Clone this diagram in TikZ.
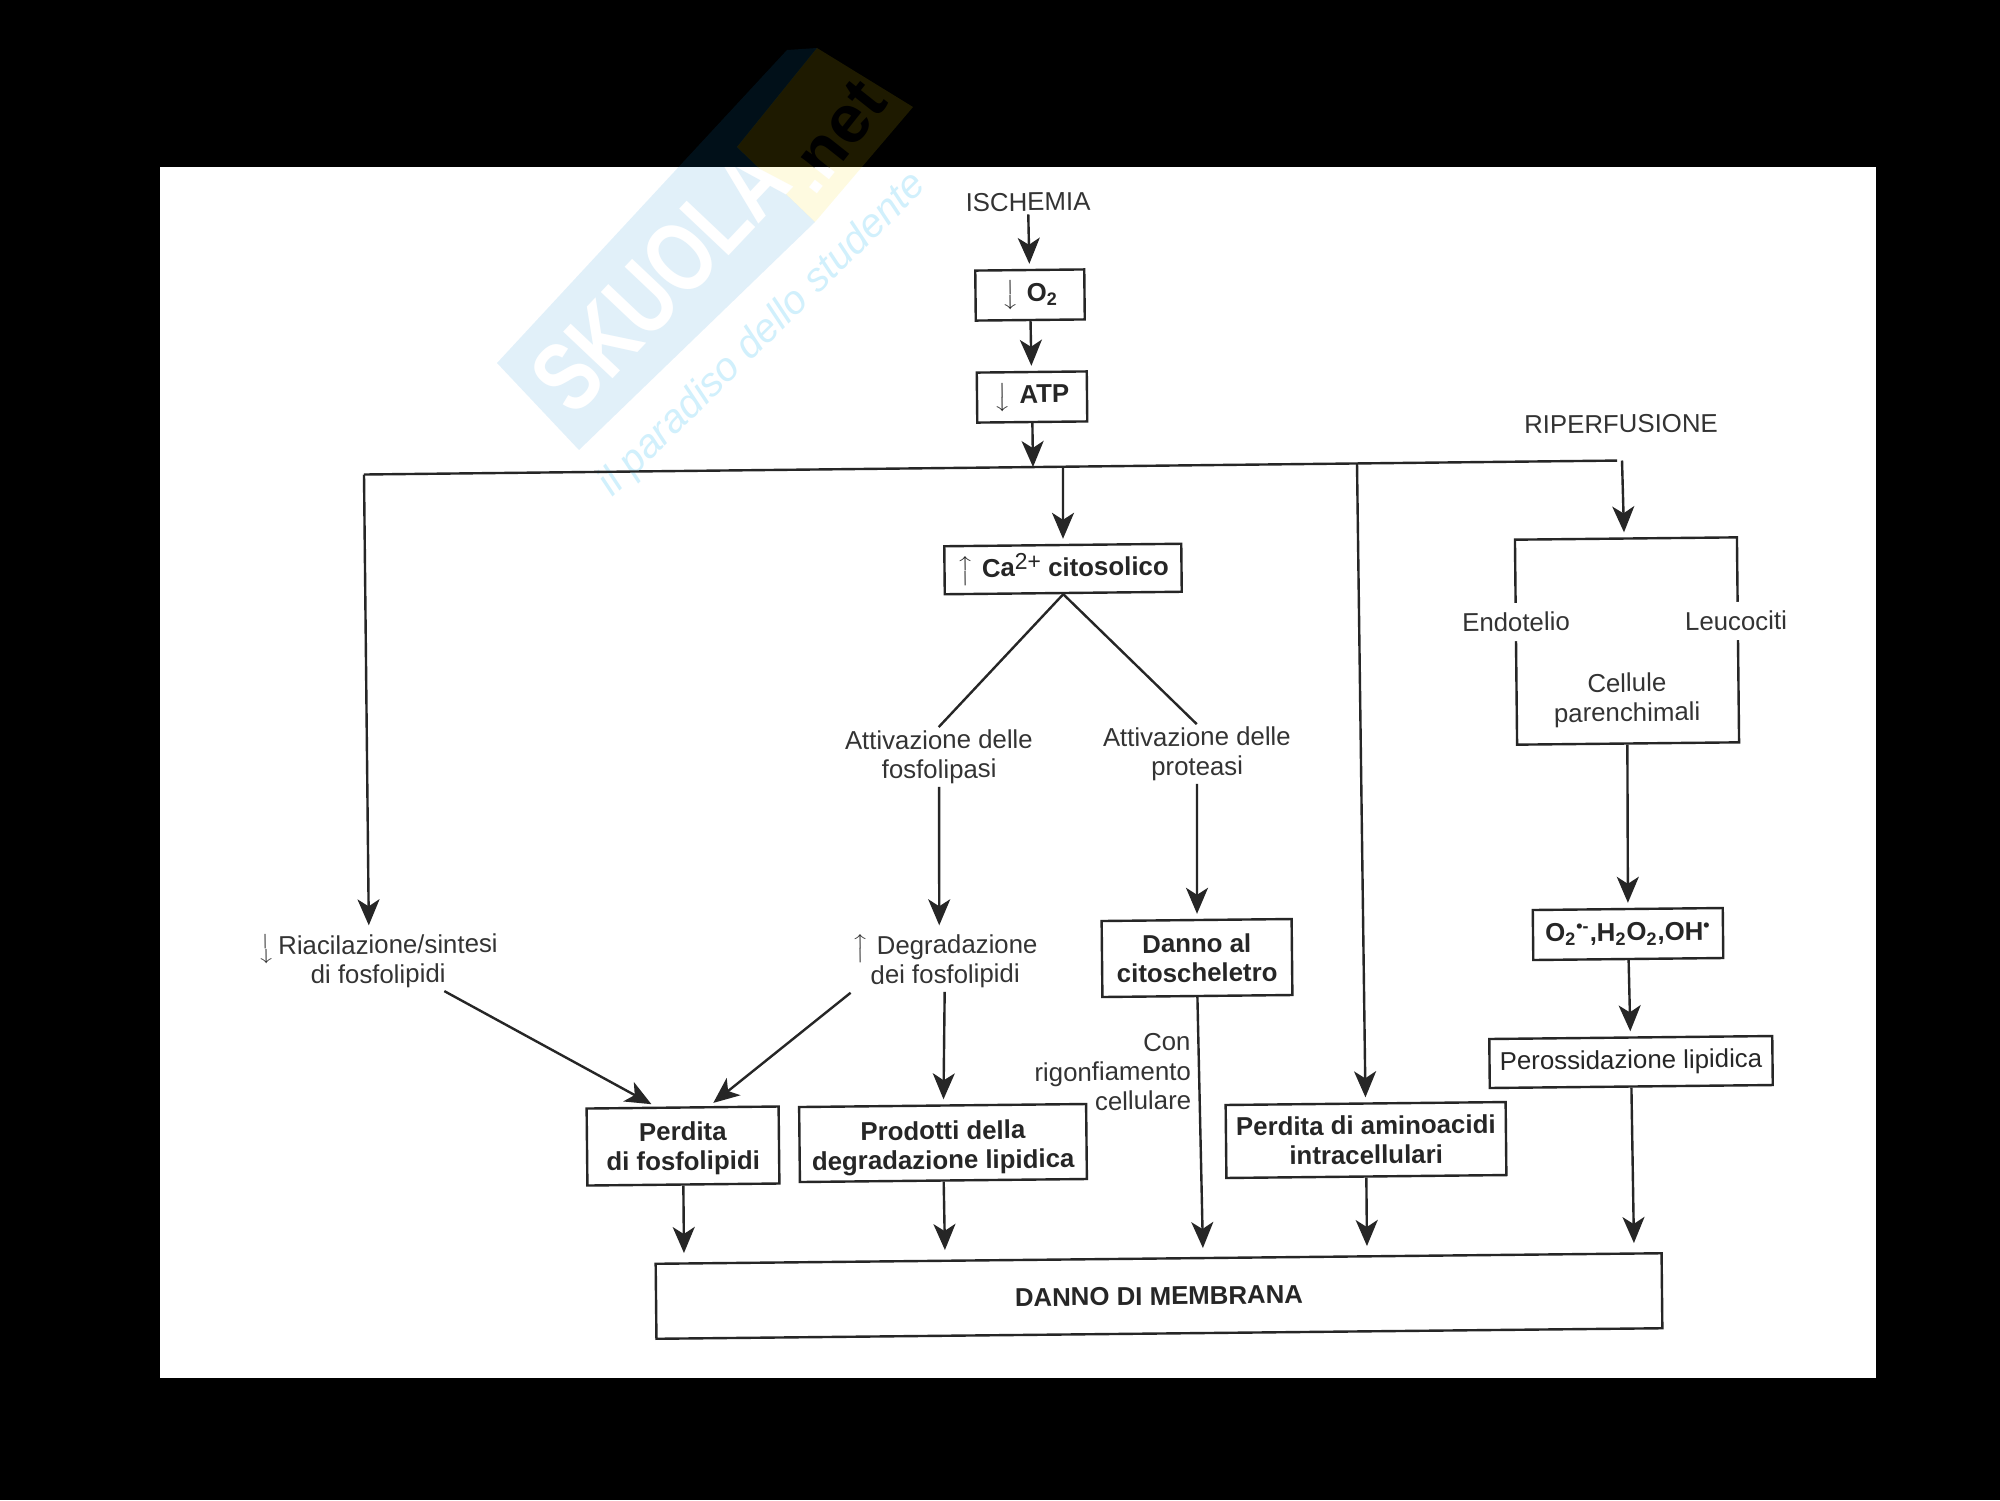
\documentclass[tikz,border=0pt]{standalone}
\usepackage{fontspec}
\setmainfont{Liberation Sans}
\usepackage{amsmath}
\usetikzlibrary{arrows.meta,positioning,calc}

\newcommand{\giu}{{\boldmath$\big\downarrow$}\,\,}
\newcommand{\su}{{\boldmath$\big\uparrow$}\,\,}

\begin{document}
\begin{tikzpicture}[x=0.5pt, y=-0.5pt, ->, >={Stealth[length=13pt,width=11pt,inset=3.5pt]},
  line width=1.2pt, draw=black!85, shorten >=2.5pt,
  font=\fontsize{12.9}{14.7}\selectfont]
\tikzset{every node/.style={rotate=0.6}}
\tikzset{txt/.style={align=center, text=black!80, inner sep=1pt}}
\tikzset{box/.style={draw, align=center, fill=white, inner sep=1pt, text=black!85, font=\fontsize{12.9}{14.7}\selectfont\bfseries}}
\tikzset{wmtint/.style={opacity=0.12}}
\useasboundingbox (0,0) rectangle (2000,1500);
\fill[black] (0,0) rectangle (2000,1500);
\fill[white] (160,167) rectangle (1876,1378);
% watermark
\fill[wmtint, cyan!70!blue] (497,363) -- (787,50) -- (817,48) -- (737,147) -- (815,222) -- (579,450) -- cycle;
\fill[wmtint, yellow!80!orange] (737,147) -- (817,48) -- (913,107) -- (815,222) -- cycle;
\begin{scope}
\clip (0,0) rectangle (2000,167);
\node[black, rotate=51, font=\fontsize{34}{34}\selectfont\bfseries] (netk) at (835,137) {.net};
\end{scope}
\begin{scope}
\clip (160,167) rectangle (1876,1378);
\node[white, rotate=46, font=\fontsize{38}{38}\selectfont\bfseries] (skuola) at (660,279) {\scalebox{1}[1.3]{SKUOLA}};
\node[white, rotate=51, font=\fontsize{34}{34}\selectfont\bfseries] (net) at (835,137) {.net};
\node[cyan!18, rotate=44, font=\fontsize{20}{20}\selectfont\itshape] (motto) at (763,335) {il paradiso dello studente};
\end{scope}
% ischemia
\node[txt] (isch) at (1028,202) {ISCHEMIA};
\node[box, minimum width=54.5pt, minimum height=25pt] (o2) at (1030,295) {\giu O\textsubscript{2}};
\node[box, minimum width=55pt, minimum height=25pt] (atp) at (1032,397) {\giu ATP};
\node[txt] (rip) at (1621,424) {RIPERFUSIONE};
\coordinate (barL) at (364,474.5);
\coordinate (barR) at (1622,460.5);
\coordinate (barA) at (1033,467);
\coordinate (barB) at (1063,467);
\coordinate (barC) at (1357,463.5);
% calcio
\node[box, minimum width=118.5pt, minimum height=24pt] (ca) at (1063,569) {\su Ca\raisebox{0.5ex}{\fontsize{11.5}{11.5}\selectfont\mdseries 2+} citosolico};
\node[txt] (attfos) at (939,757) {Attivazione delle\\fosfolipasi};
\node[txt] (attpro) at (1197,754) {Attivazione delle\\proteasi};
\node[txt] (riacil) at (378,961) {{\boldmath$\big\downarrow$}\,Riacilazione/sintesi\\di fosfolipidi};
\node[txt] (degrad) at (945,961) {\su Degradazione\\dei fosfolipidi};
\node[box, minimum width=95pt, minimum height=38pt] (citosch) at (1197,958) {Danno al\\citoscheletro};
\node[txt, align=right, anchor=east] (rigonf) at (1194,1071) {Con\\rigonfiamento\\cellulare};
\node[box, minimum width=96pt, minimum height=38.5pt] (perdita) at (683,1146) {\rule{0pt}{12pt}Perdita\\di fosfolipidi};
\node[box, minimum width=143.5pt, minimum height=37.5pt] (prodotti) at (943,1143) {\rule{0pt}{14pt}Prodotti della\\degradazione lipidica};
\node[box, minimum width=140pt, minimum height=36.5pt] (amino) at (1366,1140) {Perdita di aminoacidi\\intracellulari};
% riperfusione
\node[draw, fill=white, minimum width=111pt, minimum height=102.5pt] (cell) at (1627,641) {};
\node[txt, fill=white, minimum height=19pt] (endo) at (1516,622) {Endotelio};
\node[txt, fill=white, minimum height=19pt] (leuco) at (1736,621) {Leucociti};
\node[txt] (paren) at (1627,700) {Cellule\\parenchimali};
\node[box, minimum width=95pt, minimum height=25pt] (rad) at (1628,934) {O\textsubscript{2}\textsuperscript{•-},H\textsubscript{2}O\textsubscript{2},OH\textsuperscript{•}};
\node[box, minimum width=141.5pt, minimum height=24.5pt, font=\fontsize{12.9}{14.7}\selectfont] (perox) at (1631,1062) {Perossidazione lipidica};
\node[box, minimum width=503pt, minimum height=37.5pt] (memb) at (1159,1296) {DANNO DI MEMBRANA};
\coordinate (mA) at (684,1258);
\coordinate (mB) at (945,1255);
\coordinate (mC) at (1203,1253);
\coordinate (mD) at (1367,1251);
\coordinate (mE) at (1634,1248);
\draw[-] (barL) -- (barR);
\path
(isch) edge (o2)
(o2) edge (atp)
(atp) edge[shorten >=0pt] (barA)
(barL) edge (riacil.106)
(barB) edge (ca)
(barC) edge (amino)
(barR) edge (cell)
(ca.south) edge[-, shorten >=0pt] (attfos.north)
(ca.south) edge[-, shorten >=0pt] (attpro.north)
(attfos) edge (degrad.100)
(attpro) edge (citosch)
(riacil.-25) edge (perdita.124)
(degrad.198) edge (perdita.56)
(degrad) edge (prodotti)
(citosch.south) edge (mC)
(perdita) edge (mA)
(prodotti) edge (mB)
(amino) edge (mD)
(cell) edge (rad)
(rad) edge (perox)
(perox) edge (mE);
\end{tikzpicture}
\end{document}
